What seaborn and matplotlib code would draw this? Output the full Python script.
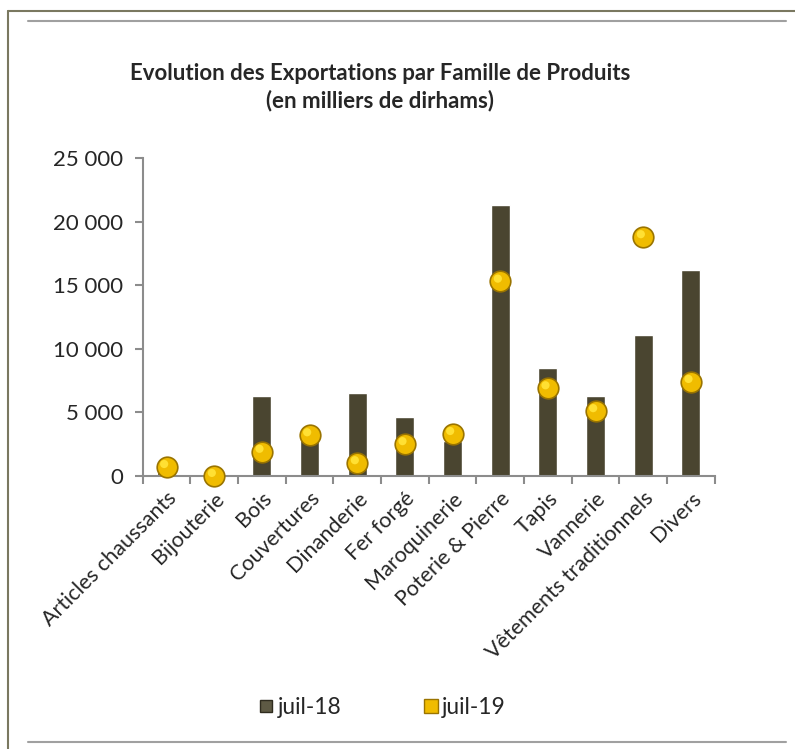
import matplotlib
matplotlib.use("Agg")
import matplotlib.pyplot as plt
import matplotlib.ticker as mticker
from matplotlib.lines import Line2D
import seaborn as sns
import pandas as pd
import numpy as np

categories = ["Articles chaussants", "Bijouterie", "Bois", "Couvertures", "Dinanderie",
              "Fer forgé", "Maroquinerie", "Poterie & Pierre", "Tapis", "Vannerie",
              "Vêtements traditionnels", "Divers"]
juil_18 = [500, 50, 6300, 2800, 6500, 4600, 2700, 21300, 8500, 6300, 11100, 16200]
juil_19 = [700, 0, 1900, 3200, 1000, 2500, 3300, 15300, 6900, 5100, 18800, 7400]

BAR_COLOR = "#4a4530"
GOLD = "#f0bc00"

sns.set_style("white")
plt.rcParams["font.family"] = ["Lato", "DejaVu Sans"]

df = pd.DataFrame({"Famille": categories, "juil-18": juil_18, "juil-19": juil_19})

fig = plt.figure(figsize=(7.95, 7.49), dpi=100)
ax = fig.add_axes([0.1795, 0.3649, 0.899 - 0.1795, 0.7887 - 0.3649])

sns.barplot(data=df, x="Famille", y="juil-18", color=BAR_COLOR, width=0.4,
            saturation=1, ax=ax, zorder=2)
sns.scatterplot(data=df, x="Famille", y="juil-19", color=GOLD, s=220,
                edgecolor="#9a7400", linewidth=1.2, ax=ax, zorder=3, clip_on=False)
# small highlight on the spheres
ax.scatter(np.arange(len(categories)) - 0.05, np.array(juil_19) + 220, s=35,
           color="#ffe033", edgecolor="none", zorder=4, clip_on=False)

ax.set_ylim(0, 25000)
ax.set_xlim(-0.5, len(categories) - 0.5)
ax.set_xlabel("")
ax.set_ylabel("")
ax.yaxis.set_major_locator(mticker.MultipleLocator(5000))
ax.yaxis.set_major_formatter(mticker.FuncFormatter(lambda v, p: f"{int(v):,}".replace(",", " ")))

for side in ["top", "right"]:
    ax.spines[side].set_visible(False)
for side in ["left", "bottom"]:
    ax.spines[side].set_color("#8c8c8c")
    ax.spines[side].set_linewidth(1.5)

ax.tick_params(axis="y", left=True, length=6, width=1.5, color="#8c8c8c",
               labelsize=16, pad=8)
ax.set_xticks(np.arange(len(categories)))
ax.set_xticklabels(categories, rotation=45, ha="right", rotation_mode="anchor", fontsize=15.5)
ax.tick_params(axis="x", which="major", length=0, pad=9)
ax.set_xticks(np.arange(len(categories) + 1) - 0.5, minor=True)
ax.tick_params(axis="x", which="minor", bottom=True, length=6, width=1.5, color="#8c8c8c")

fig.text(0.478, 0.884, "Evolution des Exportations par Famille de Produits\n(en milliers de dirhams)",
         ha="center", va="center", fontsize=16, fontweight="bold", linespacing=1.3)

handles = [Line2D([], [], marker="s", linestyle="none", markersize=9, color="#5e5a44",
                  markeredgecolor="#2f2c1f"),
           Line2D([], [], marker="s", linestyle="none", markersize=10, color=GOLD,
                  markeredgecolor="#9a7400")]
fig.legend(handles, ["juil-18", "juil-19"], loc="center", bbox_to_anchor=(0.48, 0.055),
           ncol=2, frameon=False, fontsize=16.5, handletextpad=0.1, columnspacing=3.5,
           handlelength=0.8)

# frame lines around the chart
fig.add_artist(Line2D([0.010, 1.0], [0.9853, 0.9853], color="#7a7860", lw=1.5))
fig.add_artist(Line2D([0.010, 0.010], [0.0, 0.9853], color="#7a7860", lw=1.5))
fig.add_artist(Line2D([0.035, 0.989], [0.972, 0.972], color="#a0a0a0", lw=1.5))
fig.add_artist(Line2D([0.035, 0.989], [0.0093, 0.0093], color="#a0a0a0", lw=1.5))

fig.savefig("out.png", dpi=100)
